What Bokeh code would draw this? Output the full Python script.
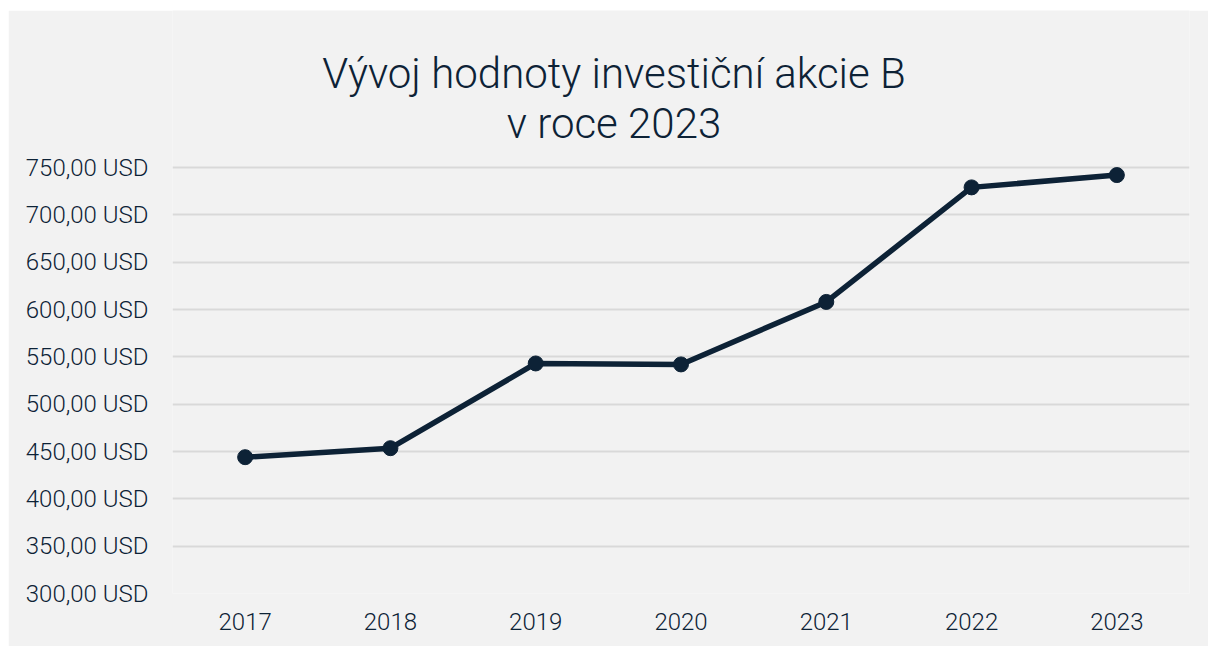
from bokeh.plotting import figure
from bokeh.models import Label, CustomJSTickFormatter, FixedTicker
from bokeh.embed import file_html
from bokeh.resources import INLINE

years = ["2017", "2018", "2019", "2020", "2021", "2022", "2023"]
values = [444, 453.5, 543, 542, 608, 729, 742]
y_ticks = [300, 350, 400, 450, 500, 550, 600, 650, 700, 750]
title_line1 = "Vývoj hodnoty investiční akcie B"
title_line2 = "v roce 2023"

NAVY = "#0d2236"
BG = "#f2f2f2"

# plot area: 300..750 spans 426 px; the frame extends 157 px higher to hold the title
y_top = 750 + 157 * (750 - 300) / 426

p = figure(x_range=years, y_range=(300, y_top), width=1200, height=636,
           output_backend="svg", toolbar_location=None,
           background_fill_color=BG, border_fill_color=BG,
           outline_line_color=None, margin=(10, 0, 0, 8),
           min_border_left=164, min_border_right=19, min_border_bottom=53,
           min_border_top=0)
p.x_range.range_padding = 0

# title lines, in screen px from the frame's bottom-left corner
for txt, ty in ((title_line1, 520.3), (title_line2, 469.7)):
    p.add_layout(Label(x=441.5, y=ty, x_units="screen", y_units="screen",
                       text=txt, text_align="center", text_baseline="alphabetic",
                       text_font="Roboto Light", text_font_size="42px",
                       text_color=NAVY))

p.line(years, values, line_color=NAVY, line_width=5.5)
p.scatter(years, values, size=15, fill_color=NAVY, line_color=NAVY)

p.yaxis.ticker = FixedTicker(ticks=y_ticks)
p.yaxis.formatter = CustomJSTickFormatter(code="return tick.toFixed(2).replace('.', ',') + ' USD';")
for ax in (p.xaxis[0], p.yaxis[0]):
    ax.axis_line_color = None
    ax.major_tick_line_color = None
    ax.minor_tick_line_color = None
    ax.major_tick_out = 0
    ax.major_tick_in = 0
    ax.major_label_text_font = "Roboto Light"
    ax.major_label_text_font_size = "24px"
    ax.major_label_text_color = NAVY
p.yaxis.major_label_standoff = 24
p.xaxis.major_label_standoff = 19

p.xgrid.grid_line_color = None
p.ygrid.grid_line_color = "#d9d9d9"
p.ygrid.grid_line_width = 2

open("out.html", "w").write(file_html(p, INLINE))
